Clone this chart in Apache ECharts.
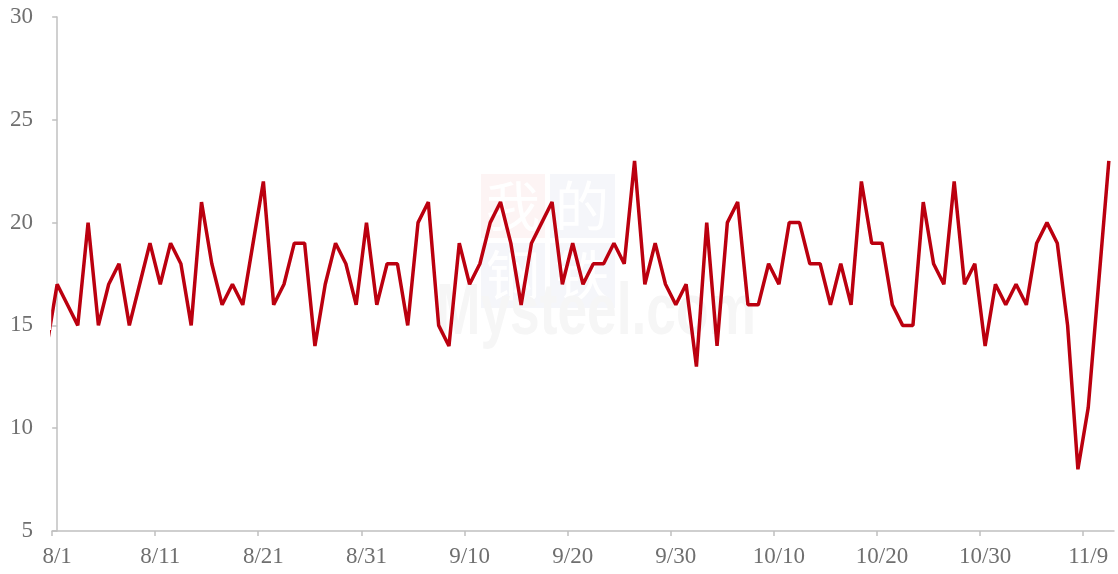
<!DOCTYPE html>
<html>
<head>
<meta charset="utf-8">
<title>daily line</title>
<script src="https://cdn.jsdelivr.net/npm/echarts@6/dist/echarts.min.js"></script>
<style>
  html, body { margin: 0; padding: 0; background: #fff; }
  #chart { width: 1118px; height: 574px; }
</style>
</head>
<body>
<div id="chart"></div>
<script>
  // daily values 8/1 .. 11/11 (index 0 = 8/1)
  const values = [
    17, 16, 15, 20, 15, 17, 18, 15, 17, 19,
    17, 19, 18, 15, 21, 18, 16, 17, 16, 19,
    22, 16, 17, 19, 19, 14, 17, 19, 18, 16,
    20, 16, 18, 18, 15, 20, 21, 15, 14, 19,
    17, 18, 20, 21, 19, 16, 19, 20, 21, 17,
    19, 17, 18, 18, 19, 18, 23, 17, 19, 17,
    16, 17, 13, 20, 14, 20, 21, 16, 16, 18,
    17, 20, 20, 18, 18, 16, 18, 16, 22, 19,
    19, 16, 15, 15, 21, 18, 17, 22, 17, 18,
    14, 17, 16, 17, 16, 19, 20, 19, 15, 8,
    11, 17, 23
  ];
  // value of 7/31, only its segment into the plot shows
  const prevValue = 14;

  const tickLabels = ['8/1', '8/11', '8/21', '8/31', '9/10', '9/20', '9/30', '10/10', '10/20', '10/30', '11/9'];
  const labelIdx = [0, 10, 20, 30, 40, 50, 60, 70, 80, 90, 100];
  const yTicks = [5, 10, 15, 20, 25, 30];

  const lineData = [[-1, prevValue]].concat(values.map((v, i) => [i, v]));
  const tickPos = labelIdx.map((i) => i - 0.5);

  const axisGrey = '#c0c0c0';
  const textGrey = '#6f6f6f';
  const serif = 'Liberation Serif';
  const cjk = '54px "Noto Sans CJK SC"';

  const chart = echarts.init(document.getElementById('chart'));

  chart.setOption({
    animation: false,
    grid: { left: 52, right: 4, top: 17, bottom: 43, outerBoundsMode: 'none', containLabel: false },
    xAxis: {
      type: 'value',
      min: -0.5,
      max: values.length - 0.5,
      splitLine: { show: false },
      axisLine: { show: true, lineStyle: { color: axisGrey, width: 1.5 } },
      axisTick: { show: true, length: 5, customValues: tickPos, lineStyle: { color: axisGrey, width: 1.5 } },
      axisLabel: {
        customValues: labelIdx,
        formatter: (v) => tickLabels[labelIdx.indexOf(v)],
        color: textGrey,
        fontFamily: serif,
        fontSize: 23,
        margin: 14,
      },
    },
    yAxis: {
      type: 'value',
      min: yTicks[0],
      max: yTicks[yTicks.length - 1],
      interval: 5,
      splitLine: { show: false },
      axisLine: { show: true, lineStyle: { color: axisGrey, width: 1.5 } },
      axisTick: { show: true, length: 5, lineStyle: { color: axisGrey, width: 1.5 } },
      axisLabel: { color: textGrey, fontFamily: serif, fontSize: 23, margin: 19 },
    },
    graphic: [
      { type: 'rect', z: -5, shape: { x: 481, y: 174, width: 64, height: 64 }, style: { fill: '#fdf4f4' } },
      { type: 'rect', z: -5, shape: { x: 550, y: 174, width: 65, height: 64 }, style: { fill: '#f5f6fa' } },
      { type: 'rect', z: -5, shape: { x: 481, y: 243, width: 64, height: 65 }, style: { fill: '#f5f6fa' } },
      { type: 'rect', z: -5, shape: { x: 550, y: 243, width: 65, height: 65 }, style: { fill: '#f5f6fa' } },
      { type: 'text', z: -4, x: 513, y: 206, style: { text: '我', fill: '#fff', font: cjk, align: 'center', verticalAlign: 'middle' } },
      { type: 'text', z: -4, x: 582, y: 206, style: { text: '的', fill: '#fff', font: cjk, align: 'center', verticalAlign: 'middle' } },
      { type: 'text', z: -4, x: 513, y: 275, style: { text: '钢', fill: '#fff', font: cjk, align: 'center', verticalAlign: 'middle' } },
      { type: 'text', z: -4, x: 582, y: 275, style: { text: '铁', fill: '#fff', font: cjk, align: 'center', verticalAlign: 'middle' } },
      { type: 'text', z: -4, x: 436, y: 350, scaleX: 0.74, style: { text: 'Mysteel.com', fill: '#f6f6f6', font: 'bold 72px "Liberation Sans"', verticalAlign: 'bottom' } },
      // hide the bit of the 7/31 segment that the clip margin lets past the y axis
      { type: 'rect', z: 100, shape: { x: 40, y: 290, width: 11.2, height: 40 }, style: { fill: '#fff' } },
    ],
    series: [
      {
        type: 'line',
        data: lineData,
        showSymbol: false,
        clip: true,
        lineStyle: { color: '#bb000f', width: 3.5 },
      },
    ],
  });
</script>
</body>
</html>
